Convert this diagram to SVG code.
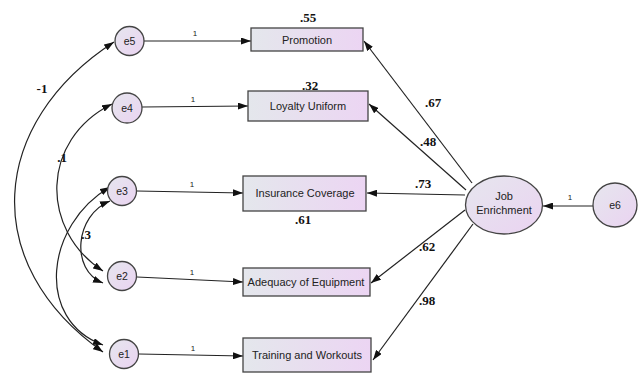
<svg xmlns="http://www.w3.org/2000/svg" width="639" height="374" viewBox="0 0 639 374">
<defs>
<linearGradient id="gb" x1="0" y1="0" x2="1" y2="0">
<stop offset="0" stop-color="#e4e7ec"/>
<stop offset="1" stop-color="#ecd5f3"/>
</linearGradient>
<linearGradient id="gc" x1="0" y1="0" x2="1" y2="1">
<stop offset="0" stop-color="#e6e6ee"/>
<stop offset="1" stop-color="#ead3f1"/>
</linearGradient>
<marker id="ah" viewBox="0 0 10 7" refX="10" refY="3.5" markerWidth="10" markerHeight="7" markerUnits="userSpaceOnUse" orient="auto-start-reverse">
<path d="M0,0 L10,3.5 L0,7 z" fill="#111"/>
</marker>
</defs>
<style>
.box{fill:url(#gb);stroke:#444;stroke-width:1.3}
.lat{fill:url(#gc);stroke:#444;stroke-width:1.3}
.lbl{font-family:"Liberation Sans",Arial,sans-serif;font-size:11px;fill:#222;text-anchor:middle}
.el{font-family:"Liberation Sans",Arial,sans-serif;font-size:10.5px;fill:#222;text-anchor:middle}
.one{font-family:"Liberation Sans",Arial,sans-serif;font-size:8px;fill:#222;text-anchor:middle}
.num{font-family:"Liberation Serif","Times New Roman",serif;font-size:13px;font-weight:bold;fill:#111;text-anchor:middle}
.ln{fill:none;stroke:#222;stroke-width:1.2;marker-end:url(#ah)}
.cov{fill:none;stroke:#222;stroke-width:1.2;marker-start:url(#ah);marker-end:url(#ah)}
</style>
<g id="connectors">
<path class="cov" d="M114,42 C-11,123 -22,264 103,352"/>
<path class="cov" d="M112,104 C40,140 40,230 103,271"/>
<path class="cov" d="M110,187 C45,225 35,320 103,345"/>
<path class="cov" d="M110,201 C75,215 70,270 103,283"/>
<path class="ln" d="M144,41 L251,41"/>
<path class="ln" d="M142,107 L248,106"/>
<path class="ln" d="M137,191 L243,193"/>
<path class="ln" d="M137,277 L243,282"/>
<path class="ln" d="M139,354 L243,356"/>
<path class="ln" d="M472,183 L364,41"/>
<path class="ln" d="M466,190 L369,104"/>
<path class="ln" d="M465,195 L367,193"/>
<path class="ln" d="M465,210 L371,283"/>
<path class="ln" d="M473,224 L373,360"/>
<path class="ln" d="M593,206 L543,206"/>
<text class="one" x="195" y="36">1</text>
<text class="one" x="193" y="102">1</text>
<text class="one" x="192" y="187">1</text>
<text class="one" x="192" y="275">1</text>
<text class="one" x="193" y="351">1</text>
<text class="one" x="570" y="200">1</text>
<text class="num" x="42" y="93">-1</text>
<text class="num" x="62" y="162">.1</text>
<text class="num" x="86" y="239">.3</text>
<text class="num" x="433" y="107">.67</text>
<text class="num" x="428" y="146">.48</text>
<text class="num" x="423" y="188">.73</text>
<text class="num" x="427" y="251">.62</text>
<text class="num" x="427" y="305">.98</text>
</g>
<g id="e5"><circle class="lat" cx="129.5" cy="41" r="14.5"/><text class="el" x="129.5" y="45">e5</text></g>
<g id="e4"><circle class="lat" cx="127" cy="108" r="15"/><text class="el" x="127" y="112">e4</text></g>
<g id="e3"><circle class="lat" cx="122" cy="191" r="14.5"/><text class="el" x="122" y="195">e3</text></g>
<g id="e2"><circle class="lat" cx="122" cy="276" r="14.5"/><text class="el" x="122" y="280">e2</text></g>
<g id="e1"><circle class="lat" cx="124" cy="354" r="14.5"/><text class="el" x="124" y="358">e1</text></g>
<g id="e6"><circle class="lat" cx="615" cy="205" r="22"/><text class="el" x="615" y="209">e6</text></g>
<g id="promotion"><rect class="box" x="251" y="28" width="112" height="23"/><text class="lbl" x="307" y="44">Promotion</text><text class="num" x="308" y="22">.55</text></g>
<g id="loyalty"><rect class="box" x="248" y="91" width="120" height="30"/><text class="lbl" x="308" y="110">Loyalty Uniform</text><text class="num" x="310" y="90">.32</text></g>
<g id="insurance"><rect class="box" x="243" y="176" width="123" height="35"/><text class="lbl" x="305" y="197">Insurance Coverage</text><text class="num" x="303" y="224">.61</text></g>
<g id="adequacy"><rect class="box" x="243" y="268" width="127" height="28"/><text class="lbl" x="306" y="286">Adequacy of Equipment</text></g>
<g id="training"><rect class="box" x="243" y="338" width="128" height="34"/><text class="lbl" x="307" y="359">Training and Workouts</text></g>
<g id="job"><ellipse class="lat" cx="504" cy="205" rx="38.5" ry="29"/><text class="lbl" x="504" y="200">Job</text><text class="lbl" x="504" y="214">Enrichment</text></g>
</svg>
